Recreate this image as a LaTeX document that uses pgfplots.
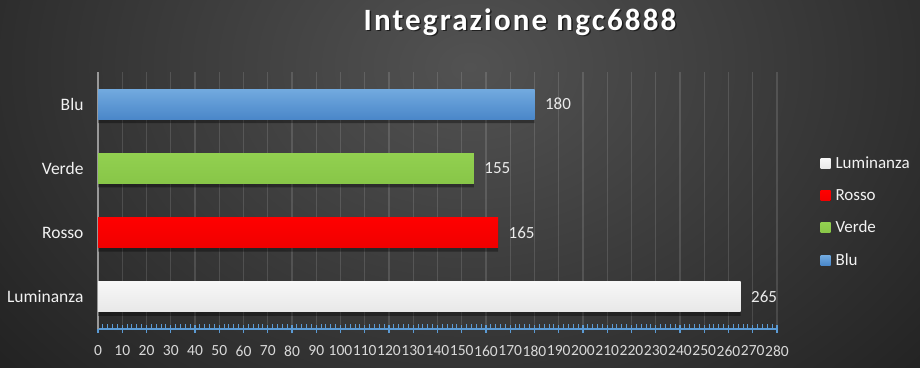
\documentclass[border=0pt]{standalone}
\usepackage{fontspec}
\setmainfont{Carlito}
\newfontfamily\titlefont[LetterSpace=7]{Carlito}
\usepackage{pgfplots}
\pgfplotsset{compat=1.18}
\definecolor{bgdark}{HTML}{222222}
\definecolor{bginner}{HTML}{525252}
\definecolor{axblue}{HTML}{5B9BD5}
\definecolor{bluetop}{HTML}{72AADF}
\definecolor{bluebot}{HTML}{4A87C9}
\definecolor{verde}{HTML}{92D050}
\definecolor{verdebot}{HTML}{88C648}
\definecolor{rosso}{HTML}{FF0000}
\definecolor{rossobot}{HTML}{F00000}
\definecolor{lumtop}{HTML}{F7F7F7}
\definecolor{lumbot}{HTML}{E8E8E8}
\definecolor{ticktext}{HTML}{D9D9D9}
\begin{document}
\begin{tikzpicture}[x=1pt,y=1pt]
\fill[bgdark] (0,0) rectangle (920,367);
\begin{scope}
\clip (0,0) rectangle (920,367);
\shade[inner color=bginner, outer color=bgdark] (470,300) ellipse (620 and 470);
\end{scope}
\node[font=\titlefont\bfseries\fontsize{31}{36}\selectfont, black, opacity=0.6] at (521.5,343.5) {Integrazione ngc6888};
\node[font=\titlefont\bfseries\fontsize{31}{36}\selectfont, white] at (520,345) {Integrazione ngc6888};
\begin{axis}[
  at={(98pt,38pt)}, anchor=south west,
  scale only axis, width=679pt, height=257pt,
  xbar, bar width=30pt, bar shift=0pt,
  xmin=0, xmax=280, ymin=-0.5, ymax=3.5,
  axis lines=left,
  axis line style={-},
  x axis line style={draw=axblue, line width=1.6pt},
  y axis line style={draw=white!60!black, line width=1.2pt},
  xtick distance=10, minor x tick num=4,
  xtick align=center,
  major tick length=8pt, minor tick length=5pt,
  every x tick/.style={draw=axblue, line width=1.2pt},
  every minor x tick/.style={draw=axblue, line width=1pt, yshift=2.5pt},
  xmajorgrids,
  major x grid style={draw=white, opacity=0.13, line width=1.3pt},
  /pgf/number format/assume math mode=true,
  ytick={0,1,2,3},
  yticklabels={Luminanza,Rosso,Verde,Blu},
  ytick style={draw=none},
  yticklabel style={font=\fontsize{17.5}{20}\selectfont, text=white!95!black, xshift=-7pt},
  xticklabel style={font=\fontsize{15.5}{18}\selectfont, text=ticktext, yshift=-9pt},
  legend image code/.code={\fill[#1] (0pt,-5pt) rectangle (10pt,5pt); \path (13pt,0pt);},
  legend style={at={(1.0595,0.455)}, anchor=west, draw=none, fill=none,
    text=white!95!black, font=\fontsize{17}{20}\selectfont, row sep=15.2pt},
  legend cell align=left,
  nodes near coords,
  nodes near coords style={font=\fontsize{17}{20}\selectfont, text=white!92!black,
    anchor=west, xshift=7pt, shade=false, fill=none, opacity=1},
]
% shadows
\addplot[forget plot, fill=black, draw=none, opacity=0.35, bar shift=-4pt, nodes near coords={}] coordinates {(265,0) (165,1) (155,2) (180,3)};
% bars
\addplot[draw=none, top color=lumtop, bottom color=lumbot] coordinates {(265,0)};
\addlegendentry{Luminanza}
\addplot[draw=none, top color=rosso, bottom color=rossobot] coordinates {(165,1)};
\addlegendentry{Rosso}
\addplot[draw=none, top color=verde, bottom color=verdebot] coordinates {(155,2)};
\addlegendentry{Verde}
\addplot[draw=none, top color=bluetop, bottom color=bluebot] coordinates {(180,3)};
\addlegendentry{Blu}
\end{axis}
\end{tikzpicture}
\end{document}
